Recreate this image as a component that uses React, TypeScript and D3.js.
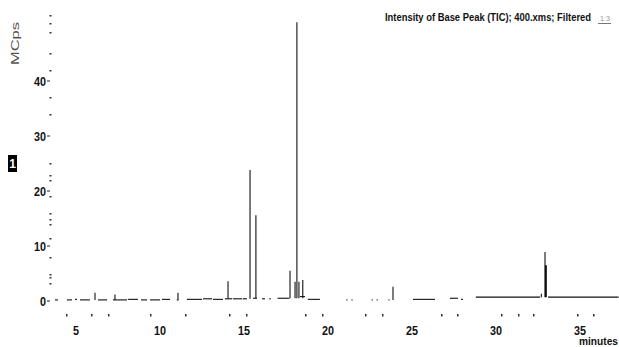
import React from "react";
import * as d3 from "d3";

// ---- data (minutes, MCps) ----
const xTickValues = [5, 10, 15, 20, 25, 30, 35];
const yTickValues = [0, 10, 20, 30, 40];
const xMinorTicks = [4.4, 5.9, 6.9, 9.4, 11.5, 14.1, 15.1, 18.65, 19.67, 22.2, 23.2, 26.7, 27.7, 30.3, 31.3, 32.2, 34.8, 35.8, 37.3];
const yMinorTicks = [52, 50.5, 49, 45, 42, 37, 34, 25, 23, 22, 19, 16, 15, 14, 11.5, 8, 5, 4.4, 3.3];

// baseline segments: [start min, end min, level]
const baseStart = [3.75, 4.46, 4.94, 5.24, 6.31, 7.2, 8.1, 8.87, 9.4, 10.12, 11.0, 11.6, 12.56, 13.15, 13.87, 14.35, 14.94, 15.54, 16.07, 16.5, 17.0, 17.14, 18.33, 18.8, 21.1, 21.4, 22.6, 22.9, 23.6, 25.06, 27.26, 27.92, 28.8, 33.1];
const baseEnd = [3.93, 4.76, 5.06, 5.83, 6.85, 8.04, 8.69, 9.23, 10.0, 10.6, 11.1, 12.5, 13.1, 13.75, 14.3, 14.9, 15.18, 15.77, 16.25, 16.6, 17.15, 17.7, 18.63, 19.52, 21.16, 21.46, 22.66, 22.96, 23.66, 26.37, 27.74, 28.04, 32.62, 37.3];
const baseLevel = [0.2, 0.2, 0.3, 0.2, 0.2, 0.2, 0.3, 0.2, 0.2, 0.3, 0.2, 0.3, 0.4, 0.3, 0.4, 0.4, 0.4, 0.5, 0.4, 0.4, 0.5, 0.5, 0.8, 0.3, 0.2, 0.2, 0.2, 0.2, 0.2, 0.3, 0.5, 0.3, 0.7, 0.7];

// peaks: retention time, apex height, foot level
const peakTimes = [6.13, 7.32, 11.07, 14.05, 15.36, 15.71, 17.74, 18.04, 18.15, 18.27, 18.5, 23.87, 32.7, 32.92, 32.97];
const peakHeights = [1.5, 1.2, 1.5, 3.6, 23.8, 15.6, 5.5, 3.5, 50.7, 3.5, 3.8, 2.6, 1.3, 8.9, 6.5];
const peakFoot = [0.2, 0.2, 0.2, 0.4, 0.4, 0.5, 0.5, 0.5, 0.5, 0.5, 0.5, 0.2, 0.7, 0.7, 0.7];

const W = 619;
const H = 347;

export default function App() {
  const x = d3.scaleLinear().domain([3.5, 37.3]).range([50.8, 618.6]);
  const y = d3.scaleLinear().domain([0, 52]).range([301, 15]);
  const line = d3.line<[number, number]>().x((d) => x(d[0])).y((d) => y(d[1]));

  const segs = baseStart.map((s, i) =>
    line([
      [s, baseLevel[i]],
      [baseEnd[i], baseLevel[i]],
    ])
  );
  const peaks = peakTimes.map((t, i) =>
    line([
      [t, peakFoot[i]],
      [t, peakHeights[i]],
    ])
  );

  const font = "'Liberation Sans', Arial, sans-serif";

  return (
    <svg
      width={W}
      height={H}
      style={{ position: "fixed", left: 0, top: 0, background: "#fff" }}
      fontFamily={font}
    >
      <rect x={0} y={0} width={W} height={H} fill="#fff" />
      {/* title */}
      <text x={385} y={21} fontSize={11} fontWeight="bold" textLength={206} lengthAdjust="spacingAndGlyphs" fill="#111">
        Intensity of Base Peak (TIC); 400.xms; Filtered
      </text>
      <text x={600} y={21} fontSize={8} fill="#999" textLength={10} lengthAdjust="spacingAndGlyphs">
        1:3
      </text>
      <line x1={598} x2={611} y1={23.5} y2={23.5} stroke="#777" strokeWidth={1} />

      {/* y unit */}
      <text
        transform="translate(19,65) rotate(-90)"
        fontSize={11}
        fill="#555"
        textLength={43}
        lengthAdjust="spacingAndGlyphs"
      >
        MCps
      </text>

      {/* trace marker */}
      <rect x={8} y={155} width={9} height={17} fill="#000" />
      <text x={12.5} y={168} fontSize={12} fontWeight="bold" fill="#fff" textAnchor="middle">
        1
      </text>

      {/* y ticks */}
      {yTickValues.map((v) => (
        <g key={"yt" + v}>
          <text
            x={46}
            y={y(v) + 5}
            fontSize={13}
            fontWeight="bold"
            textAnchor="end"
            fill="#111"
            textLength={String(v).length * 6}
            lengthAdjust="spacingAndGlyphs"
          >
            {v}
          </text>
          <line x1={47} x2={50} y1={y(v)} y2={y(v)} stroke="#222" strokeWidth={1} />
        </g>
      ))}
      {yMinorTicks.map((v, i) => (
        <rect key={"ym" + i} x={49.5} y={Math.round(y(v))} width={2} height={1.5} fill="#333" />
      ))}

      {/* x ticks */}
      {xTickValues.map((v) => (
        <text
          key={"xt" + v}
          x={x(v)}
          y={335}
          fontSize={13}
          fontWeight="bold"
          textAnchor="middle"
          fill="#111"
          textLength={String(v).length * 6}
          lengthAdjust="spacingAndGlyphs"
        >
          {v}
        </text>
      ))}
      {xMinorTicks.map((v, i) => (
        <rect key={"xm" + i} x={Math.round(x(v))} y={314} width={1.5} height={2.5} fill="#333" />
      ))}
      <text x={579} y={345} fontSize={11} fontWeight="bold" fill="#111" textLength={39} lengthAdjust="spacingAndGlyphs">
        minutes
      </text>

      {/* chromatogram */}
      <g fill="none" stroke="#111" strokeWidth={1.1}>
        {segs.map((d, i) => (
          <path key={"s" + i} d={d || ""} />
        ))}
        {peaks.map((d, i) => (
          <path key={"p" + i} d={d || ""} strokeWidth={i === 14 ? 2 : 1.1} />
        ))}
      </g>
    </svg>
  );
}
